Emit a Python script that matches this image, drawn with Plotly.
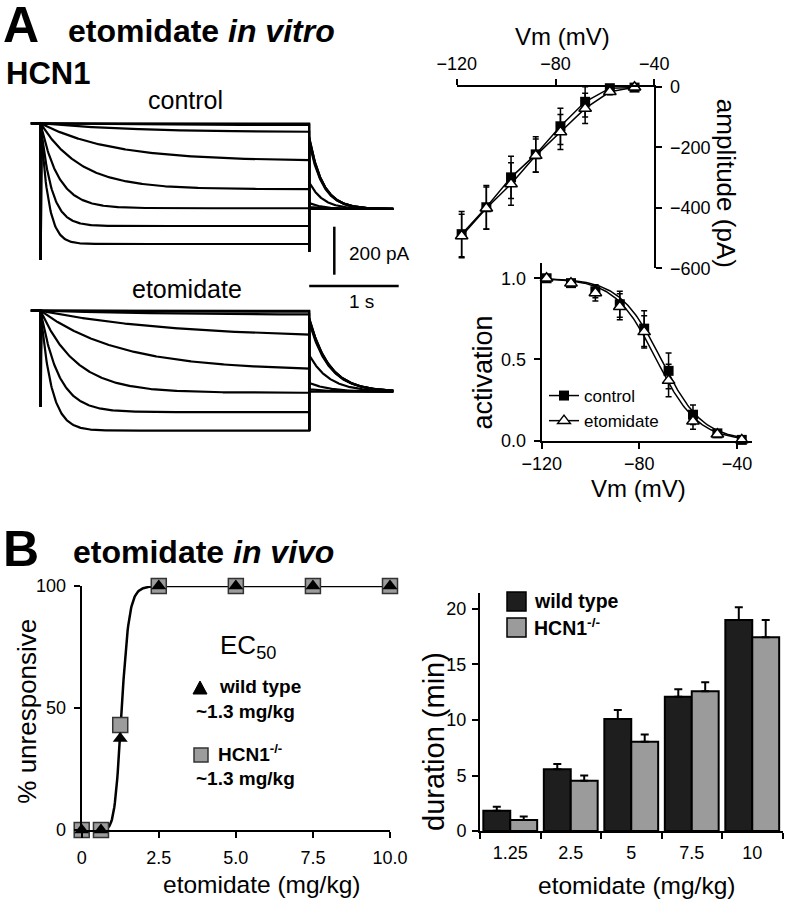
import numpy as np
import plotly.graph_objects as go

W, H = 785, 900
FONT = "Liberation Sans, Arial, Helvetica, sans-serif"


def px(x):
    return x / W


def py(y):
    return 1 - y / H


# ----------------------------- DATA -----------------------------
# Panel A (left): representative HCN1 current traces, one entry per sweep
step_dur = 3.0            # s, hyperpolarizing step
pre_dur = 0.11            # s, holding before step
post_dur = 0.94           # s, tail recording
ctrl_ss = [-2, -8, -37, -157, -275, -354, -428, -503]        # pA steady state
ctrl_tau = [1.5, 1.5, 1.0, 0.8, 0.45, 0.2, 0.12, 0.085]       # s activation
ctrl_tail = [0, 8, 25, 112, 280, 292, 298, 300]              # pA tail amplitude
ctrl_tail_base = -357
ctrl_tail_tau = 0.15
ctrl_cap_on, ctrl_cap_off = -570, -535

ete_ss = [-1, -5, -18, -115, -250, -342, -423, -500]
ete_tau = [1.5, 1.5, 1.5, 1.5, 0.9, 0.4, 0.2, 0.12]
ete_tail = [0, 10, 37, 153, 290, 300, 305, 307]
ete_tail_base = -337.5
ete_tail_tau = 0.22
ete_cap_on, ete_cap_off = -400, -500

scale_time = 1.0     # s
scale_current = 200  # pA

# Panel A (right, top): current-voltage relation
iv_vm = [-118, -108, -98, -88, -78, -68, -58, -48]
iv_ctrl = [-487, -398, -299, -223, -130, -49, -4, -2]
iv_ctrl_err = [75, 72, 70, 58, 60, 50, 10, 3]
iv_ete = [-493, -401, -321, -227, -149, -71, -16, -1]
iv_ete_err = [72, 70, 70, 55, 58, 50, 10, 3]

# Panel A (right, bottom): activation curves
act_vm = [-118, -108, -98, -88, -78, -68, -58, -48, -38]
act_ctrl = [1.0, 0.97, 0.92, 0.84, 0.69, 0.43, 0.16, 0.045, 0.005]
act_ctrl_err = [0.01, 0.01, 0.04, 0.08, 0.11, 0.11, 0.06, 0.015, 0.005]
act_ete = [1.0, 0.97, 0.91, 0.825, 0.67, 0.37, 0.12, 0.04, 0.005]
act_ete_err = [0.01, 0.01, 0.05, 0.08, 0.1, 0.1, 0.05, 0.015, 0.005]
ctrl_vhalf, ete_vhalf, boltz_k = -71.0, -73.0, 8.5

# Panel B (left): dose-response
dose = [0, 0.625, 1.25, 2.5, 5, 7.5, 10]
wt_resp = [0, 0, 37.5, 100, 100, 100, 100]
ko_resp = [0, 0, 43, 100, 100, 100, 100]
ec50, hill_n = 1.3, 11

# Panel B (right): duration of unresponsiveness
bar_doses = ["1.25", "2.5", "5", "7.5", "10"]
wt_dur = [1.83, 5.56, 10.09, 12.1, 19.0]
wt_err = [0.36, 0.48, 0.8, 0.67, 1.15]
ko_dur = [1.0, 4.53, 8.05, 12.6, 17.45]
ko_err = [0.3, 0.47, 0.65, 0.8, 1.55]


# ----------------------------- FIGURE -----------------------------
def sweep(ss, tau, tail, base, ttau, cap_on, cap_off):
    ts = np.linspace(0.004, step_dur, 400)
    i_s = ss * (1 - np.exp(-ts / tau))
    tt = np.linspace(step_dur, step_dur + post_dur, 200)
    i_t = base + tail * np.exp(-(tt - step_dur) / ttau)
    t = np.concatenate([[-pre_dur, 0, 0], ts, [step_dur], tt])
    i = np.concatenate([[0, 0, cap_on], i_s, [cap_off], i_t])
    return t, i


fig = go.Figure()

for k in range(len(ctrl_ss)):
    t, i = sweep(ctrl_ss[k], ctrl_tau[k], ctrl_tail[k], ctrl_tail_base,
                 ctrl_tail_tau, ctrl_cap_on, ctrl_cap_off)
    fig.add_trace(go.Scatter(x=t, y=i, mode="lines", xaxis="x", yaxis="y",
                             line=dict(color="black", width=2.2), showlegend=False))
for k in range(len(ete_ss)):
    t, i = sweep(ete_ss[k], ete_tau[k], ete_tail[k], ete_tail_base,
                 ete_tail_tau, ete_cap_on, ete_cap_off)
    fig.add_trace(go.Scatter(x=t, y=i, mode="lines", xaxis="x2", yaxis="y2",
                             line=dict(color="black", width=2.2), showlegend=False))

# IV
fig.add_trace(go.Scatter(
    x=iv_vm, y=iv_ctrl, mode="lines+markers", xaxis="x3", yaxis="y3", name="control",
    line=dict(color="black", width=1.5),
    marker=dict(symbol="square", size=10, color="black"),
    error_y=dict(type="data", array=iv_ctrl_err, color="black", thickness=1.5, width=3),
    cliponaxis=False, legend="legend"))
fig.add_trace(go.Scatter(
    x=iv_vm, y=iv_ete, mode="lines+markers", xaxis="x3", yaxis="y3", name="etomidate",
    line=dict(color="black", width=1.5),
    marker=dict(symbol="triangle-up", size=11, color="white", line=dict(color="black", width=1.5)),
    error_y=dict(type="data", array=iv_ete_err, color="black", thickness=1.5, width=3),
    cliponaxis=False, legend="legend"))

# Activation
vfit = np.linspace(-118, -37, 200)
fig.add_trace(go.Scatter(x=vfit, y=1 / (1 + np.exp((vfit - ctrl_vhalf) / boltz_k)),
                         mode="lines", xaxis="x4", yaxis="y4",
                         line=dict(color="black", width=1.5), showlegend=False))
fig.add_trace(go.Scatter(x=vfit, y=1 / (1 + np.exp((vfit - ete_vhalf) / boltz_k)),
                         mode="lines", xaxis="x4", yaxis="y4",
                         line=dict(color="black", width=1.5), showlegend=False))
fig.add_trace(go.Scatter(
    x=act_vm, y=act_ctrl, mode="markers", xaxis="x4", yaxis="y4",
    marker=dict(symbol="square", size=10, color="black"),
    error_y=dict(type="data", array=act_ctrl_err, color="black", thickness=1.5, width=3),
    cliponaxis=False, showlegend=False))
fig.add_trace(go.Scatter(
    x=act_vm, y=act_ete, mode="markers", xaxis="x4", yaxis="y4",
    marker=dict(symbol="triangle-up", size=11, color="white", line=dict(color="black", width=1.5)),
    error_y=dict(type="data", array=act_ete_err, color="black", thickness=1.5, width=3),
    cliponaxis=False, showlegend=False))

# Dose response
dfit = np.linspace(dose[1], dose[-1], 500)
fig.add_trace(go.Scatter(x=dfit, y=100 / (1 + (ec50 / dfit) ** hill_n), mode="lines",
                         xaxis="x5", yaxis="y5", line=dict(color="black", width=2.5),
                         showlegend=False, cliponaxis=False))
fig.add_trace(go.Scatter(x=dose, y=ko_resp, mode="markers", xaxis="x5", yaxis="y5",
                         marker=dict(symbol="square", size=15, color="#9c9c9c",
                                     line=dict(color="#333333", width=1.5)),
                         showlegend=False, cliponaxis=False))
fig.add_trace(go.Scatter(x=dose, y=wt_resp, mode="markers", xaxis="x5", yaxis="y5",
                         marker=dict(symbol="triangle-up", size=13, color="black"),
                         showlegend=False, cliponaxis=False))

# Bars
fig.add_trace(go.Bar(x=bar_doses, y=wt_dur, xaxis="x6", yaxis="y6", name="wild type",
                     marker=dict(color="#1e1e1e", line=dict(color="black", width=2)),
                     error_y=dict(type="data", array=wt_err, arrayminus=[0] * 5, symmetric=False,
                                  color="black", thickness=2, width=4),
                     showlegend=False))
fig.add_trace(go.Bar(x=bar_doses, y=ko_dur, xaxis="x6", yaxis="y6", name="HCN1-/-",
                     marker=dict(color="#9b9b9b", line=dict(color="black", width=2)),
                     error_y=dict(type="data", array=ko_err, arrayminus=[0] * 5, symmetric=False,
                                  color="black", thickness=2, width=4),
                     showlegend=False))

# ----------------------------- AXES -----------------------------
AX = dict(showline=True, linecolor="black", linewidth=2, ticks="outside", ticklen=6,
          tickwidth=2, tickcolor="black", showgrid=False, zeroline=False, automargin=False,
          tickfont=dict(size=18, color="black", family=FONT))

# pixel scale of trace panels
T0 = 40.7          # px of step onset
PPS = 89.5         # px per second
PPA = 0.24         # px per pA
C0 = 123.3         # px of zero current (control)
E0 = 310.7         # px of zero current (etomidate)

layout_axes = dict(
    xaxis=dict(domain=[px(20), px(410)], range=[(20 - T0) / PPS, (410 - T0) / PPS],
               visible=False, anchor="y", automargin=False),
    yaxis=dict(domain=[py(298), py(108)], range=[(C0 - 298) / PPA, (C0 - 108) / PPA],
               visible=False, anchor="x", automargin=False),
    xaxis2=dict(domain=[px(20), px(410)], range=[(20 - T0) / PPS, (410 - T0) / PPS],
                visible=False, anchor="y2", automargin=False),
    yaxis2=dict(domain=[py(450), py(300)], range=[(E0 - 450) / PPA, (E0 - 300) / PPA],
                visible=False, anchor="x2", automargin=False),
    xaxis3=dict(AX, domain=[px(456.7), px(654.3)], range=[-120, -40], side="top",
                anchor="y3", tickvals=[-120, -80, -40], ticklabelstandoff=2),
    yaxis3=dict(AX, domain=[py(268.3), py(87)], range=[-600, 0], side="right",
                anchor="x3", tickvals=[0, -200, -400, -600], ticklabelstandoff=4),
    xaxis4=dict(AX, domain=[px(541.7), px(751.7)], range=[-120, -120 + 210 / 2.44],
                anchor="y4", tickvals=[-120, -80, -40], ticklabelstandoff=0),
    yaxis4=dict(AX, domain=[py(440.7), py(263)], range=[0, 1.094], anchor="x4",
                tickvals=[0, 0.5, 1.0], tickformat=".1f", ticklabelstandoff=4),
    xaxis5=dict(AX, domain=[px(81.7), px(390)], range=[0, 10], anchor="y5",
                tickvals=[0, 2.5, 5, 7.5, 10], ticktext=["0", "2.5", "5.0", "7.5", "10.0"],
                ticklabelstandoff=4),
    yaxis5=dict(AX, domain=[py(830), py(586)], range=[0, 100], anchor="x5",
                tickvals=[0, 50, 100], ticklabelstandoff=4),
    xaxis6=dict(AX, domain=[px(480), px(782.5)], type="category", range=[-0.5, 4.5],
                anchor="y6", tickson="boundaries", ticklabelstandoff=4),
    yaxis6=dict(AX, domain=[py(831), py(593)], range=[0, 21.44], anchor="x6",
                tickvals=[0, 5, 10, 15, 20], ticklabelstandoff=2),
)

# ----------------------------- TEXT -----------------------------
def ann(text, x, y, size, xanchor="center", angle=0):
    return dict(text=text, x=px(x), y=py(y), xref="paper", yref="paper",
                xanchor=xanchor, yanchor="middle", showarrow=False, textangle=angle,
                font=dict(size=size, color="black", family=FONT))


annotations = [
    ann("<b>A</b>", 1, 25, 50, "left"),
    ann("<b>etomidate <i>in vitro</i></b>", 66, 30.6, 32, "left"),
    ann("<b>HCN1</b>", 4, 74, 31, "left"),
    ann("control", 185, 99.8, 25),
    ann("etomidate", 187, 288.6, 25),
    ann("200 pA", 346.7, 253.4, 19, "left"),
    ann("1 s", 361.7, 301.7, 19),
    ann("Vm (mV)", 562, 36.7, 24),
    ann("amplitude (pA)", 726.7, 183.5, 26, angle=90),
    ann("activation", 482, 372.5, 27, angle=-90),
    ann("Vm (mV)", 638.3, 488, 24),
    ann("<b>B</b>", 1, 549, 50, "left"),
    ann("<b>etomidate <i>in vivo</i></b>", 71, 552.2, 32, "left"),
    ann("EC<sub>50</sub>", 248, 646, 26),
    ann("<b>wild type</b>", 217, 686.7, 19, "left"),
    ann("<b>~1.3 mg/kg</b>", 194, 711.7, 19, "left"),
    ann("<b>HCN1<sup>-/-</sup></b>", 216, 753.4, 19, "left"),
    ann("<b>~1.3 mg/kg</b>", 194, 778.4, 19, "left"),
    ann("% unresponsive", 27, 711.7, 26, angle=-90),
    ann("etomidate (mg/kg)", 261.7, 884.8, 24.5),
    ann("duration (min)", 434, 742, 29, angle=-90),
    ann("etomidate (mg/kg)", 636.7, 885, 24.5),
    ann("<b>wild type</b>", 532, 601, 19.5, "left"),
    ann("<b>HCN1<sup>-/-</sup></b>", 532, 627, 19.5, "left"),
]

shapes = [
    # scale bars (control trace axes)
    dict(type="line", xref="x", yref="y", x0=(334.3 - T0) / PPS, x1=(334.3 - T0) / PPS,
         y0=(C0 - 226.7) / PPA, y1=(C0 - 226.7) / PPA - scale_current,
         line=dict(color="black", width=2.5)),
    dict(type="line", xref="x", yref="y", x0=step_dur, x1=step_dur + scale_time,
         y0=(C0 - 286) / PPA, y1=(C0 - 286) / PPA, line=dict(color="black", width=2.5)),
    # EC50 legend symbols
    dict(type="path", xref="paper", yref="paper",
         path=f"M {px(193)},{py(694)} L {px(207)},{py(694)} L {px(200)},{py(681)} Z",
         fillcolor="black", line=dict(color="black", width=1)),
    dict(type="rect", xref="paper", yref="paper", x0=px(194), x1=px(208), y0=py(762), y1=py(748),
         fillcolor="#9c9c9c", line=dict(color="#333333", width=1.5)),
    # bar legend swatches
    dict(type="rect", xref="paper", yref="paper", x0=px(507), x1=px(526), y0=py(611), y1=py(592),
         fillcolor="#1e1e1e", line=dict(color="black", width=1.5)),
    dict(type="rect", xref="paper", yref="paper", x0=px(507), x1=px(526), y0=py(637), y1=py(618),
         fillcolor="#9b9b9b", line=dict(color="black", width=1.5)),
]

fig.update_layout(
    width=W, height=H, margin=dict(l=0, r=0, t=0, b=0, autoexpand=False),
    paper_bgcolor="white", plot_bgcolor="rgba(0,0,0,0)",
    font=dict(family=FONT, color="black"),
    barmode="group", bargap=0.11, bargroupgap=0,
    showlegend=True,
    legend=dict(x=px(544), y=py(378), xanchor="left", yanchor="top",
                font=dict(size=17, color="black", family=FONT), bgcolor="rgba(0,0,0,0)",
                itemwidth=30, tracegroupgap=0),
    annotations=annotations, shapes=shapes,
    **layout_axes,
)

fig.write_html("out.html", config={"displayModeBar": False},
               post_script="document.body.style.margin='0px';")
